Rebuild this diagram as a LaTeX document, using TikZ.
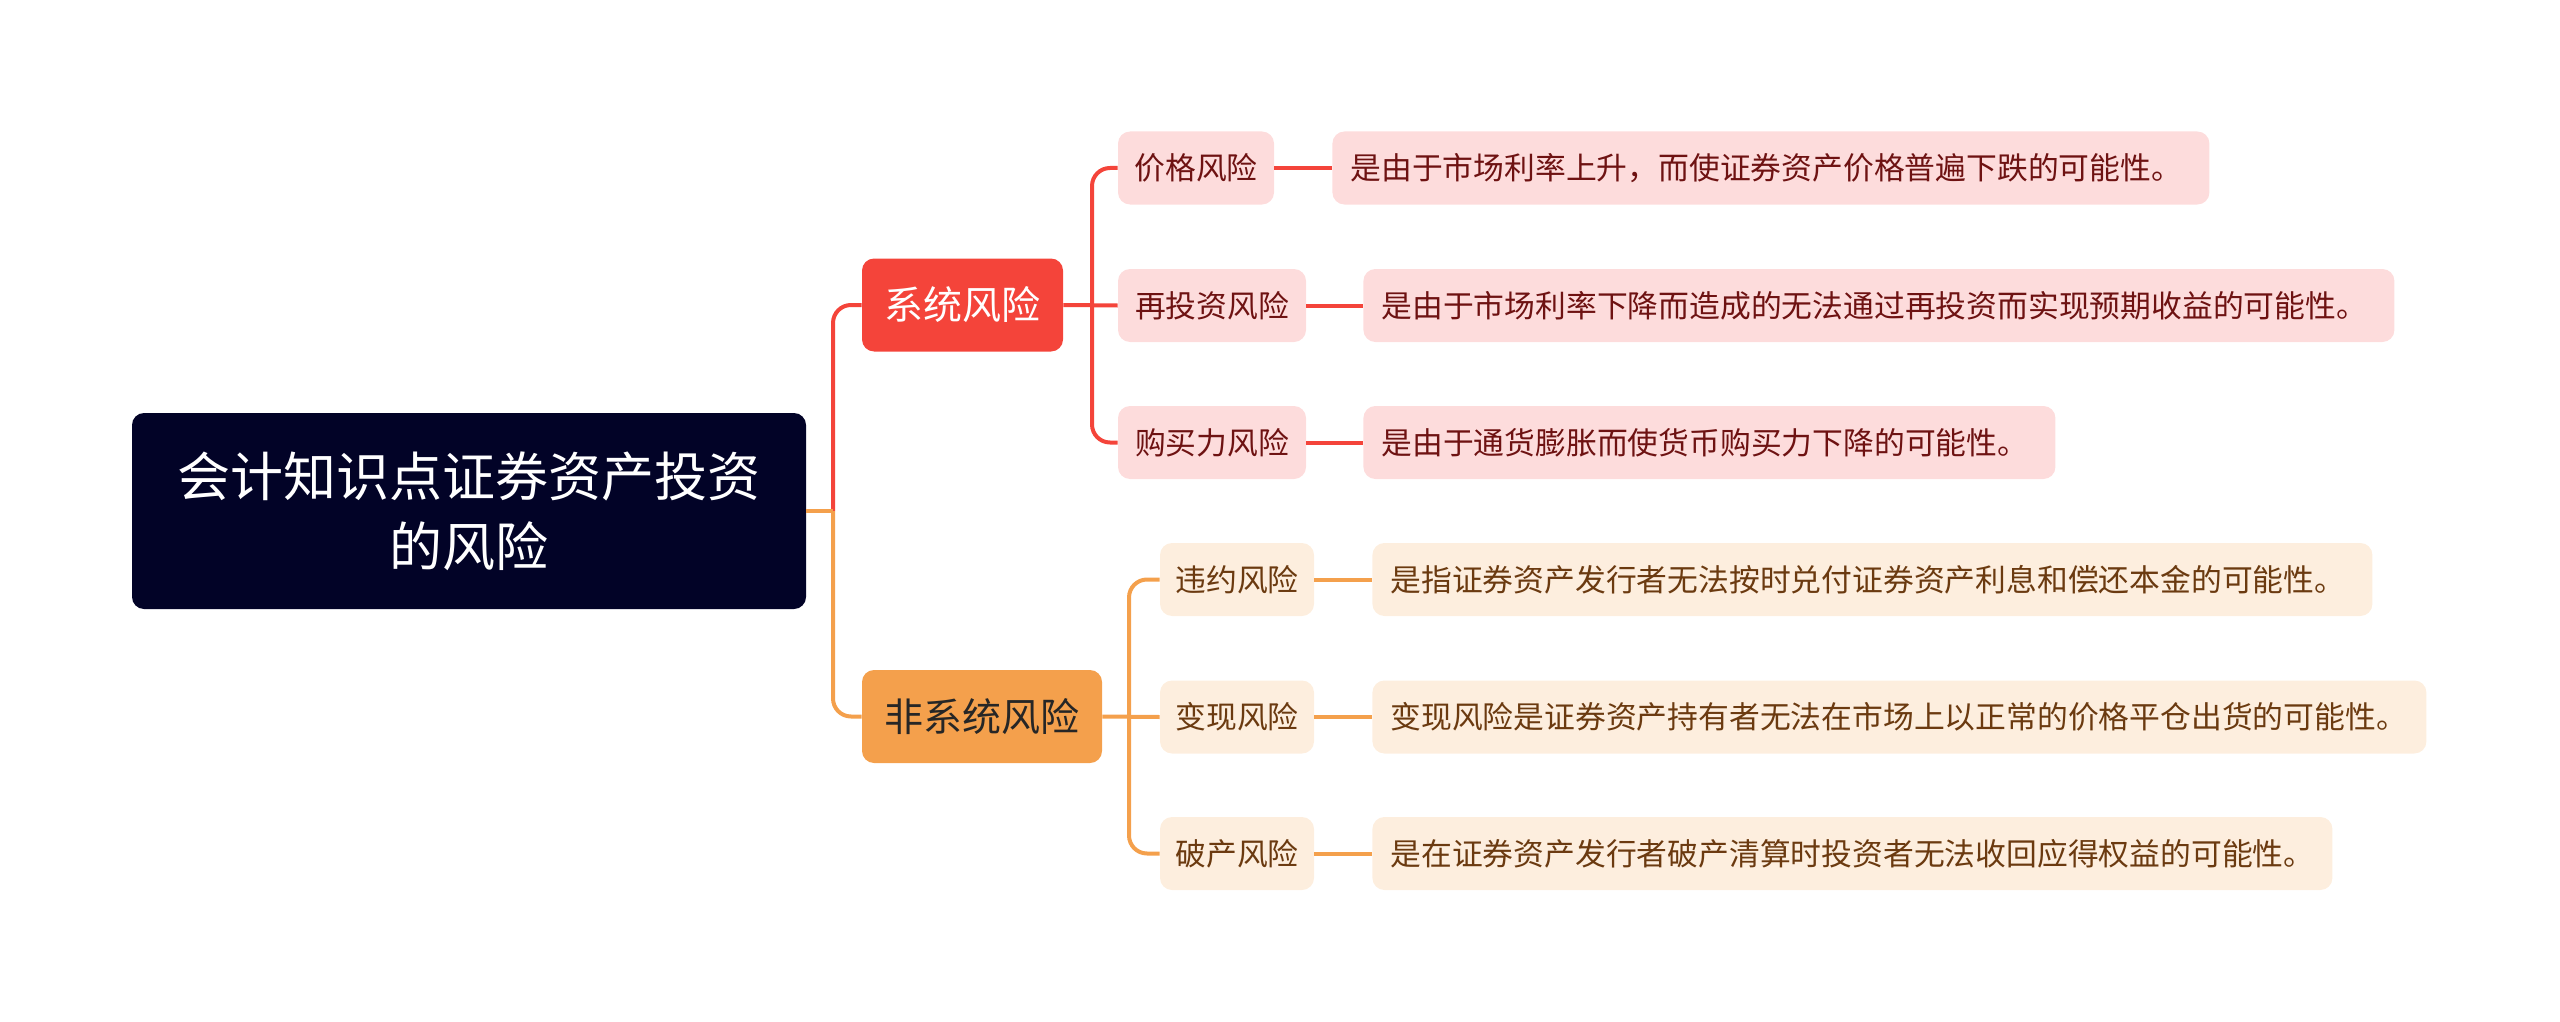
\documentclass[tikz,border=0pt]{standalone}
\usepackage{fontspec}
\newfontfamily\cjk{Noto Sans CJK SC}
\definecolor{rootfill}{HTML}{020327}
\definecolor{redc}{HTML}{F4443A}
\definecolor{orc}{HTML}{F4A04C}
\definecolor{pinkfill}{HTML}{FDDCDC}
\definecolor{creamfill}{HTML}{FDEEDE}
\definecolor{redtext}{HTML}{6E1212}
\definecolor{brtext}{HTML}{6B3A10}
\tikzset{
  rootbox/.style={fill=rootfill, rounded corners=6pt, inner sep=0pt, text=white, align=center,
    font=\cjk\fontsize{26.5pt}{35pt}\selectfont},
  lvone/.style={rounded corners=6pt, inner sep=0pt, font=\cjk\fontsize{19.5pt}{23pt}\selectfont,
    minimum height=46.5pt},
  leafr/.style={fill=pinkfill, rounded corners=6pt, inner sep=0pt, text=redtext,
    font=\cjk\fontsize{15.4pt}{18pt}\selectfont, minimum height=36.5pt},
  leafo/.style={fill=creamfill, rounded corners=6pt, inner sep=0pt, text=brtext,
    font=\cjk\fontsize{15.4pt}{18pt}\selectfont, minimum height=36.5pt},
  desc/.style={anchor=west, inner xsep=9pt, align=left, text width=#1-18pt, minimum width=#1},
  rline/.style={draw=redc, line width=2pt, rounded corners=9pt},
  oline/.style={draw=orc, line width=2pt, rounded corners=9pt},
}
\begin{document}
\begin{tikzpicture}[x=0.5pt,y=-0.5pt]
\useasboundingbox (0,0) rectangle (2560,1022);
% root
\node[rootbox, minimum width=337pt, minimum height=98pt] (root) at (469,511) {会计知识点证券资产投资\\的风险};
% level 1
\node[lvone, fill=redc, text=white, minimum width=100.5pt] (sys) at (962.5,305) {系统风险};
\node[lvone, fill=orc, text=black!85, minimum width=120pt] (nsys) at (982,716.5) {非系统风险};
% systematic children
\node[leafr, minimum width=78pt] (p1) at (1196,168) {价格风险};
\node[leafr, minimum width=94pt] (p2) at (1212,305.5) {再投资风险};
\node[leafr, minimum width=94pt] (p3) at (1212,442.5) {购买力风险};
\node[leafr, desc=438.5pt] (d1) at (1332,168) {是由于市场利率上升，而使证券资产价格普遍下跌的可能性。};
\node[leafr, desc=515.5pt] (d2) at (1363,305.5) {是由于市场利率下降而造成的无法通过再投资而实现预期收益的可能性。};
\node[leafr, desc=346pt] (d3) at (1363,442.5) {是由于通货膨胀而使货币购买力下降的可能性。};
% non-systematic children
\node[leafo, minimum width=77pt] (q1) at (1237,579.5) {违约风险};
\node[leafo, minimum width=77pt] (q2) at (1237,717) {变现风险};
\node[leafo, minimum width=77pt] (q3) at (1237,853.5) {破产风险};
\node[leafo, desc=500pt] (e1) at (1372,579.5) {是指证券资产发行者无法按时兑付证券资产利息和偿还本金的可能性。};
\node[leafo, desc=527pt] (e2) at (1372,717) {变现风险是证券资产持有者无法在市场上以正常的价格平仓出货的可能性。};
\node[leafo, desc=480pt] (e3) at (1372,853.5) {是在证券资产发行者破产清算时投资者无法收回应得权益的可能性。};
% trunks
\coordinate (t0) at (833,511);
\coordinate (t1) at (1092,305);
\coordinate (t2) at (1129,717);
% connectors
\draw[rline] (t0) |- (sys.west);
\draw[oline] (t0) |- (nsys.west);
\draw[oline] (root.east) -- (t0);
\draw[rline] (sys.east) -- (p2.west);
\draw[rline] (p1.west) -| (t1) |- (p3.west);
\draw[oline] (nsys.east) -- (q2.west);
\draw[oline] (q1.west) -| (t2) |- (q3.west);
\draw[rline] (p1.east) -- (d1.west);
\draw[rline] (p2.east) -- (d2.west);
\draw[rline] (p3.east) -- (d3.west);
\draw[oline] (q1.east) -- (e1.west);
\draw[oline] (q2.east) -- (e2.west);
\draw[oline] (q3.east) -- (e3.west);
\end{tikzpicture}
\end{document}
